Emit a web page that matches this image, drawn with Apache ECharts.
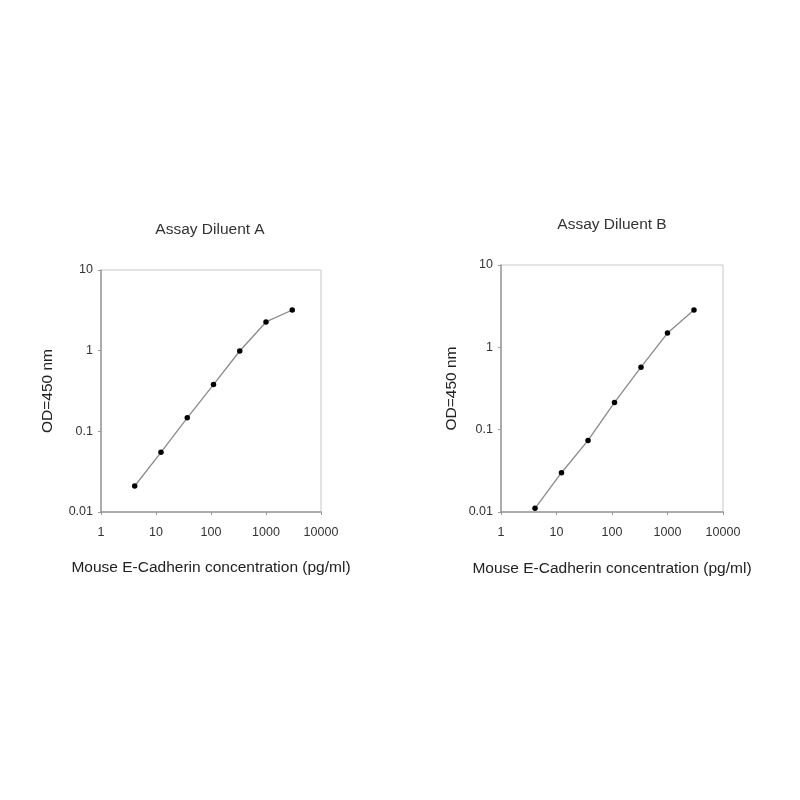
<!DOCTYPE html>
<html>
<head>
<meta charset="utf-8">
<script src="https://cdn.jsdelivr.net/npm/echarts@6/dist/echarts.min.js"></script>
<style>html,body{margin:0;padding:0;background:#fff}#c{width:800px;height:800px}</style>
</head>
<body>
<div id="c"></div>
<script>
const concentrations = [4.1, 12.3, 37, 111, 333, 1000, 3000];
const odDiluentA = [0.021, 0.055, 0.147, 0.38, 0.99, 2.27, 3.19];
const odDiluentB = [0.0111, 0.030, 0.074, 0.214, 0.574, 1.49, 2.84];
const titles = ['Assay Diluent A', 'Assay Diluent B'];
const xName = 'Mouse E-Cadherin concentration (pg/ml)';
const yName = 'OD=450 nm';

const font = 'Liberation Sans, Arial, sans-serif';
const fmt = v => String(+(+v).toPrecision(3));
function pairs(ys){ return concentrations.map((x,i)=>[x, ys[i]]); }

const grids = [
  {left:101, top:270, width:220, height:242},
  {left:501, top:265, width:222, height:247}
];
const yGaps = [45, 41];
const xGaps = [48, 49];

const chart = echarts.init(document.getElementById('c'), null, {renderer:'canvas'});
const axisCommon = {
  type:'log', logBase:10,
  axisLine:{show:true, lineStyle:{color:'#9a9a9a', width:1.5}},
  axisTick:{show:true, length:3, lineStyle:{color:'#9a9a9a'}},
  minorTick:{show:false},
  splitLine:{show:false},
  axisLabel:{color:'#333', fontSize:12.5, fontFamily:font, formatter:fmt},
  nameLocation:'middle',
  nameTextStyle:{color:'#222', fontSize:15.5, fontFamily:font}
};
chart.setOption({
  animation:false,
  backgroundColor:'#fff',
  title: titles.map((t,i)=>({
    text:t, left: i===0 ? 210 : 612, top: i===0 ? 222 : 217, textAlign:'center', padding:0,
    textStyle:{fontSize:15.5, fontWeight:'normal', color:'#333', fontFamily:font}
  })),
  grid: grids.map(g=>Object.assign({show:true, borderColor:'#c8c8c8', borderWidth:1}, g)),
  xAxis: grids.map((g,i)=>Object.assign({}, axisCommon, {
    gridIndex:i, min:1, max:10000, name:xName, nameGap:xGaps[i],
    axisLabel:Object.assign({}, axisCommon.axisLabel, {margin:14})
  })),
  yAxis: grids.map((g,i)=>Object.assign({}, axisCommon, {
    gridIndex:i, min:0.01, max:10, name:yName, nameGap:yGaps[i],
    axisLabel:Object.assign({}, axisCommon.axisLabel, {margin:8})
  })),
  series: [odDiluentA, odDiluentB].map((d,i)=>({
    type:'line', xAxisIndex:i, yAxisIndex:i, data:pairs(d),
    symbol:'circle', symbolSize:5.5,
    lineStyle:{color:'#8a8a8a', width:1.3},
    itemStyle:{color:'#000'}
  }))
});
</script>
</body>
</html>
